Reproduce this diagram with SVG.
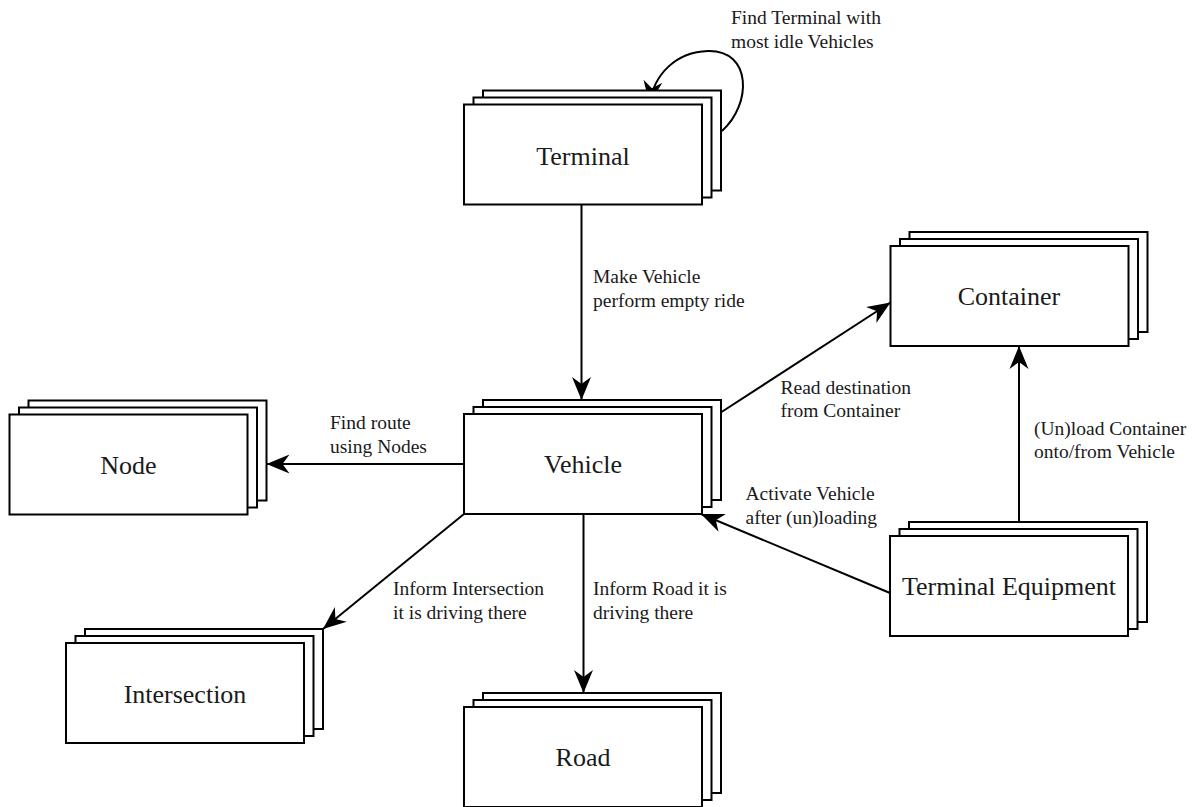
<svg xmlns="http://www.w3.org/2000/svg" width="1195" height="807" viewBox="0 0 1195 807">
<style>
.nt{font-family:"Liberation Serif","Times New Roman",serif;font-size:26px;fill:#1a1a1a;text-anchor:middle}
.lb{font-family:"Liberation Serif","Times New Roman",serif;font-size:19.5px;fill:#1a1a1a}
.edge{fill:none;stroke:#000;stroke-width:2;marker-end:url(#arr)}
</style>
<defs>
<marker id="arr" markerUnits="userSpaceOnUse" markerWidth="30" markerHeight="24" viewBox="-25 -12 30 24" refX="0" refY="0" orient="auto" overflow="visible">
<path d="M0,0 L-23,-9.5 L-16,0 L-23,9.5 Z" fill="#000"/>
</marker>
<g id="stack" fill="#fff" stroke="#000" stroke-width="2">
<rect x="19" y="-14" width="238" height="100"/>
<rect x="9.5" y="-7" width="238" height="100"/>
<rect x="0" y="0" width="238" height="100"/>
</g>
</defs>
<rect width="1195" height="807" fill="#fff"/>
<g id="connectors">
<path class="edge" d="M581.5,205 L581.5,400"/>
<path class="edge" d="M722,131 C752,104 752,50 708,51 C676,52 654,74 649.5,104"/>
<path class="edge" d="M464,464 L266.5,464"/>
<path class="edge" d="M720,413 L890.5,302.5"/>
<path class="edge" d="M1019,522 L1019,346"/>
<path class="edge" d="M890,593 L701,514"/>
<path class="edge" d="M464,514 L323,629"/>
<path class="edge" d="M583.5,514 L583.5,693"/>
</g>
<g id="labels">
<text class="lb" x="731" y="24">Find Terminal with</text>
<text class="lb" x="731" y="47.5">most idle Vehicles</text>
<text class="lb" x="593" y="283">Make Vehicle</text>
<text class="lb" x="593" y="306.5">perform empty ride</text>
<text class="lb" x="330" y="429">Find route</text>
<text class="lb" x="330" y="452.5">using Nodes</text>
<text class="lb" x="780.5" y="393.5">Read destination</text>
<text class="lb" x="780.5" y="417">from Container</text>
<text class="lb" x="1034" y="435">(Un)load Container</text>
<text class="lb" x="1034" y="458">onto/from Vehicle</text>
<text class="lb" x="745.5" y="500">Activate Vehicle</text>
<text class="lb" x="745.5" y="523.5">after (un)loading</text>
<text class="lb" x="393" y="595">Inform Intersection</text>
<text class="lb" x="393" y="618.5">it is driving there</text>
<text class="lb" x="593" y="595">Inform Road it is</text>
<text class="lb" x="593" y="618.5">driving there</text>
</g>
<g id="node-terminal">
<use href="#stack" x="464" y="104.5"/>
<text class="nt" x="583" y="165">Terminal</text>
</g>
<g id="node-vehicle">
<use href="#stack" x="464" y="414"/>
<text class="nt" x="583" y="472.5">Vehicle</text>
</g>
<g id="node-container">
<use href="#stack" x="890.5" y="246"/>
<text class="nt" x="1009" y="305">Container</text>
</g>
<g id="node-node">
<use href="#stack" x="9.5" y="414.5"/>
<text class="nt" x="128.5" y="473.5">Node</text>
</g>
<g id="node-intersection">
<use href="#stack" x="66" y="643"/>
<text class="nt" x="185" y="702.5">Intersection</text>
</g>
<g id="node-road">
<use href="#stack" x="464" y="707"/>
<text class="nt" x="583" y="766">Road</text>
</g>
<g id="node-terminal-equipment">
<use href="#stack" x="890" y="536"/>
<text class="nt" x="1009" y="595">Terminal Equipment</text>
</g>
</svg>
